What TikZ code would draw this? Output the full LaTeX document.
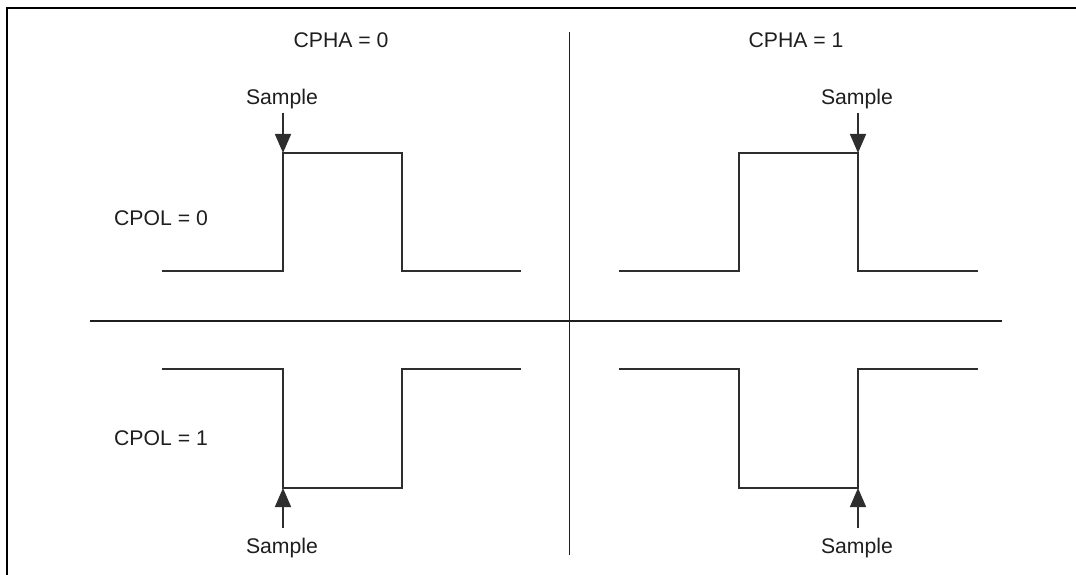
\documentclass[tikz,border=0pt]{standalone}
\usepackage{fontspec}
\setmainfont{Liberation Sans}
\usetikzlibrary{arrows.meta}
\definecolor{ink}{HTML}{1E1E1E}
\definecolor{wave}{HTML}{2E2E2E}
\begin{document}
\begin{tikzpicture}[x=1pt,y=-1pt,
  lbl/.style={inner sep=0pt,anchor=base,text=ink,font=\fontsize{21.2}{24}\selectfont},
  wavestyle/.style={draw=wave,line width=1.5pt},
  divider/.style={draw=ink,line width=1.6pt},
  frame/.style={draw=black,line width=2.6pt},
  samplearrow/.style={draw=wave,line width=1.5pt,-{Triangle[length=19pt,width=16pt]}}]
\useasboundingbox (0,0) rectangle (1076,575);
% frame (left and top)
\draw[frame] (7,575) -- (7,8) -- (1076,8);
% dividers
\draw[divider] (569.5,32) -- (569.5,555);
\draw[divider] (90,321) -- (1002,321);
% labels
\node[lbl] (cpha0) at (341,48) {CPHA = 0};
\node[lbl] (cpha1) at (796,48) {CPHA = 1};
\node[lbl] (cpol0) at (161,225) {CPOL = 0};
\node[lbl] (cpol1) at (161,445) {CPOL = 1};
% waveforms
\draw[wavestyle] (162,271) -- (283,271) -- (283,153) -- (402,153) -- (402,271) -- (521,271);
\draw[wavestyle] (619,271) -- (739,271) -- (739,153) -- (858,153) -- (858,271) -- (978,271);
\draw[wavestyle] (162,369) -- (283,369) -- (283,488) -- (402,488) -- (402,369) -- (521,369);
\draw[wavestyle] (619,369) -- (739,369) -- (739,488) -- (858,488) -- (858,369) -- (978,369);
% sample arrows
\node[lbl] (s1) at (282,105) {Sample};
\node[lbl] (s2) at (857,105) {Sample};
\node[lbl] (s3) at (282,553) {Sample};
\node[lbl] (s4) at (857,553) {Sample};
\coordinate (t1) at (283,153);
\coordinate (t2) at (858,153);
\coordinate (t3) at (283,488);
\coordinate (t4) at (858,488);
\draw[samplearrow] (283,113) -- (t1);
\draw[samplearrow] (858,113) -- (t2);
\draw[samplearrow] (283,528) -- (t3);
\draw[samplearrow] (858,528) -- (t4);
\end{tikzpicture}
\end{document}
